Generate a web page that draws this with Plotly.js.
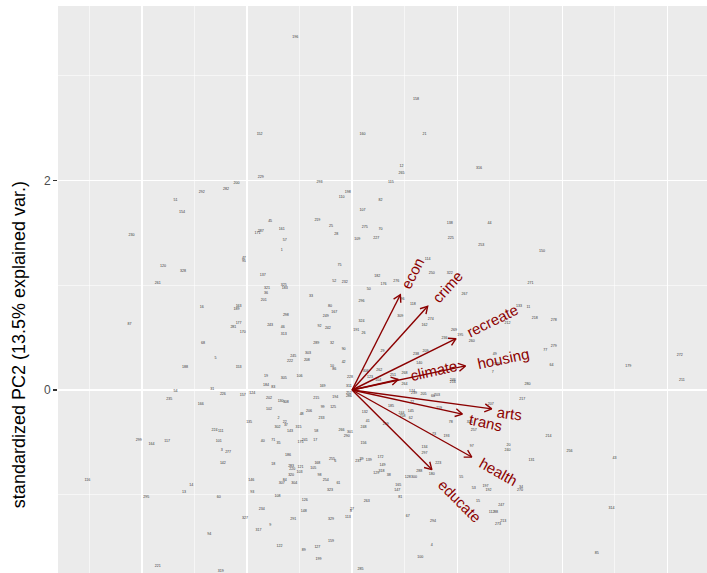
<!DOCTYPE html>
<html>
<head>
<meta charset="utf-8">
<script src="https://cdn.plot.ly/plotly-3.0.1.min.js"></script>
<style>html,body{margin:0;padding:0;background:#fff;}#chart{width:707px;height:573px;}</style>
</head>
<body>
<div id="chart"></div>
<script>
const obsLabels = ["152","229","200","282","196","158","160","21","12","265","316","293","115",
"292","51","154","45","287","171","230","47","95","137","120","328","261","321","36","201","16","163","189","87","177","281","243","170","68","5","188","153","19",
"198","110","82","107","219","25","275","70","28","109","227","161","57","1","138","44","225","253","114","250","322","75","182","52","232","276","176","325","183","50","267","33","118","96","296","80","167","249","298","309","274","162","324","46","92","242","191","26","313","269","236","195","260","289","32","90","245","303","222","208","29","238","209","140","10","86","42","228","262","106","305","268","251","306","123","104","246","264","311","169",
"252","286","215","194","174","239","205","66","203","207","217","130","308","99","125","185","72","48","206","132","145","119","41","233","244","258","62","2","22","37","302","315","259","248","78","326","143","58","266","301","290","257","73","193","35","175","241","17","156","97","134","297","186","255","6","237","39","139","172","223","168","283","121","149","105","220","103","288","180","318","129","38","98","55","128","300","320","84","254","307","304","61","165","323","147","53","81","108","126","263","148","27","8","291","329","113","67","159","122","89","127","4","199","100","285",
"49","136","7","216","280","20","240","131","197","192","34","270","15","247","112","88","213","273","294",
"214","256","43","314","85",
"150","271","133","11","218","212","278","279","77","64","179","272","211",
"54","31","226","157","124","184","83","235","166","202","102","135","224","111","299","164","117","101","40","71","3","277","142","18","116","14","13","146","93","295","60","234","327","9","317","94","221","319"];

const pc1 = [-0.88,-0.87,-1.10,-1.20,-0.54,0.61,0.10,0.69,0.47,0.47,1.21,-0.31,0.37,
-1.43,-1.68,-1.62,-0.78,-0.87,-0.90,-2.10,-1.03,-1.03,-0.85,-1.80,-1.61,-1.85,-0.81,-0.82,-0.84,-1.43,-1.08,-1.10,-2.12,-1.08,-1.13,-0.78,-1.04,-1.42,-1.30,-1.59,-1.08,-0.82,
-0.04,-0.10,0.27,0.10,-0.33,-0.20,0.12,0.27,-0.15,0.05,0.23,-0.67,-0.64,-0.67,0.93,1.31,0.94,1.23,0.72,0.76,0.93,-0.12,0.24,-0.17,-0.07,0.42,0.30,-0.65,-0.64,0.16,1.07,-0.39,0.58,0.48,0.09,-0.21,-0.17,-0.25,-0.63,0.46,0.75,0.69,0.09,-0.66,-0.31,-0.23,0.04,0.11,-0.65,0.97,0.88,1.03,1.14,-0.34,-0.19,-0.08,-0.56,-0.42,-0.59,-0.43,0.29,0.61,0.70,0.64,-0.19,-0.17,-0.08,-0.02,0.26,-0.50,-0.65,0.50,0.39,0.13,0.17,0.25,0.96,0.50,-0.03,-0.28,
-0.03,-0.03,-0.34,-0.16,0.57,0.59,0.68,0.77,0.81,1.32,1.62,-0.68,-0.63,-0.28,-0.18,0.37,0.57,-0.48,-0.41,0.12,0.56,0.83,0.15,-0.29,0.47,0.48,0.56,-0.70,-0.64,-0.63,-0.71,-0.51,0.32,0.11,0.94,1.12,-0.59,-0.34,-0.10,-0.02,-0.05,1.16,0.78,0.90,-0.70,-0.49,-0.45,-0.35,0.11,1.14,0.69,0.69,-0.61,-0.19,-0.16,0.06,0.09,0.16,0.27,0.82,-0.33,-0.58,-0.49,0.29,-0.37,-0.57,-0.50,0.64,0.76,0.28,0.23,0.35,-0.31,1.04,0.53,0.59,-0.58,-0.64,-0.25,-0.67,-0.55,-0.13,0.44,-0.21,0.43,1.16,0.46,-0.71,-0.45,0.14,-0.46,0.00,-0.01,-0.56,-0.20,-0.04,0.53,-0.20,-0.69,-0.46,-0.33,0.76,-0.32,0.65,0.08,
1.36,1.38,1.34,0.96,1.67,1.49,1.48,1.71,1.27,1.30,1.61,1.60,1.20,1.42,1.33,1.37,1.44,1.39,0.77,
1.87,2.07,2.50,2.47,2.33,
1.81,1.70,1.59,1.68,1.74,1.48,1.92,1.92,1.84,1.90,2.63,3.12,3.14,
-1.68,-1.33,-1.23,-1.04,-0.95,-0.82,-0.75,-1.74,-1.44,-0.79,-0.79,-0.98,-1.31,-1.25,-2.03,-1.91,-1.76,-1.27,-0.85,-0.75,-1.24,-1.18,-1.23,-0.75,-2.52,-1.53,-1.60,-0.96,-0.95,-1.96,-1.27,-0.86,-1.02,-0.78,-0.89,-1.36,-1.85,-1.25];

const pc2 = [2.44,2.03,1.98,1.92,3.37,2.78,2.44,2.44,2.14,2.07,2.12,1.99,1.99,
1.89,1.81,1.70,1.61,1.52,1.50,1.48,1.26,1.23,1.10,1.18,1.14,1.02,0.97,0.93,0.86,0.79,0.80,0.77,0.63,0.64,0.60,0.62,0.55,0.45,0.30,0.22,0.22,0.13,
1.89,1.84,1.81,1.72,1.62,1.57,1.56,1.54,1.49,1.44,1.45,1.54,1.43,1.34,1.59,1.59,1.45,1.38,1.25,1.12,1.12,1.19,1.09,1.04,1.03,1.04,1.01,1.00,0.97,0.96,0.92,0.90,0.82,0.87,0.85,0.80,0.74,0.71,0.72,0.71,0.68,0.62,0.66,0.60,0.61,0.59,0.57,0.54,0.53,0.57,0.50,0.52,0.47,0.45,0.45,0.39,0.32,0.35,0.28,0.29,0.37,0.34,0.37,0.26,0.23,0.20,0.27,0.12,0.19,0.13,0.11,0.16,0.14,0.18,0.12,0.09,0.09,0.06,0.04,0.04,
-0.03,-0.06,-0.08,-0.07,-0.01,-0.03,-0.04,-0.06,-0.05,-0.13,-0.09,-0.11,-0.12,-0.16,-0.16,-0.15,-0.12,-0.23,-0.20,-0.21,-0.20,-0.17,-0.30,-0.27,-0.22,-0.25,-0.27,-0.27,-0.31,-0.34,-0.35,-0.35,-0.33,-0.35,-0.31,-0.31,-0.39,-0.39,-0.38,-0.40,-0.44,-0.38,-0.42,-0.44,-0.51,-0.50,-0.48,-0.48,-0.51,-0.54,-0.55,-0.60,-0.62,-0.66,-0.68,-0.68,-0.66,-0.67,-0.64,-0.70,-0.70,-0.73,-0.74,-0.72,-0.75,-0.76,-0.78,-0.77,-0.80,-0.77,-0.79,-0.81,-0.81,-0.83,-0.83,-0.83,-0.81,-0.86,-0.86,-0.89,-0.89,-0.89,-0.91,-0.96,-0.96,-0.94,-1.02,-1.01,-1.05,-1.06,-1.16,-1.14,-1.16,-1.23,-1.23,-1.21,-1.20,-1.44,-1.49,-1.53,-1.50,-1.48,-1.62,-1.60,-1.71,
0.34,0.25,0.17,0.08,0.06,-0.53,-0.57,-0.67,-0.92,-0.96,-0.93,-0.96,-1.06,-1.10,-1.17,-1.17,-1.25,-1.28,-1.25,
-0.44,-0.58,-0.65,-1.13,-1.56,
1.33,1.02,0.80,0.79,0.69,0.64,0.67,0.42,0.38,0.24,0.23,0.33,0.09,
-0.01,0.01,-0.04,-0.05,-0.03,0.05,0.03,-0.09,-0.13,-0.08,-0.18,-0.31,-0.38,-0.39,-0.48,-0.52,-0.49,-0.49,-0.49,-0.48,-0.57,-0.59,-0.70,-0.71,-0.86,-0.91,-0.98,-0.86,-0.98,-1.02,-1.02,-1.14,-1.22,-1.29,-1.34,-1.38,-1.68,-1.73];

// Variable loadings (arrow tips) and label centres
const varNames = ["climate","housing","health","crime","trans","educate","arts","recreate","econ"];
const arrowX   = [0.44, 1.08, 1.14, 0.72, 1.05, 0.76, 1.33, 0.99, 0.46];
const arrowY   = [0.10, 0.23, -0.64, 0.80, -0.23, -0.76, -0.18, 0.49, 0.91];
const labelX   = [0.78, 1.44, 1.39, 0.91, 1.27, 1.02, 1.50, 1.34, 0.58];
const labelY   = [0.19, 0.30, -0.78, 0.99, -0.31, -1.06, -0.22, 0.66, 1.12];

// y-axis tick labels
const yTickVals = [0, 2];
const yTickText = ["0", "2"];
const yTitle = "standardized PC2 (13.5% explained var.)";

const DARKRED = "#8B0000";
const FONT = "Liberation Sans, Arial, sans-serif";

// build arrow segments + open chevron heads
const ax = [], ay = [];
const headLen = 0.077, headAng = 30 * Math.PI / 180;
for (let i = 0; i < varNames.length; i++) {
  const x = arrowX[i], y = arrowY[i];
  const th = Math.atan2(y, x);
  ax.push(0, x, null); ay.push(0, y, null);
  ax.push(x - headLen * Math.cos(th - headAng), x, x - headLen * Math.cos(th + headAng), null);
  ay.push(y - headLen * Math.sin(th - headAng), y, y - headLen * Math.sin(th + headAng), null);
}

const traces = [
  {
    type: "scatter", mode: "text",
    x: pc1, y: pc2, text: obsLabels,
    textfont: {size: 3.6, color: "#333333", family: FONT},
    textposition: "middle center",
    hoverinfo: "skip", showlegend: false
  },
  {
    type: "scatter", mode: "lines",
    x: ax, y: ay,
    line: {color: DARKRED, width: 1.4},
    hoverinfo: "skip", showlegend: false
  }
];

const annotations = varNames.map((n, i) => ({
  x: labelX[i], y: labelY[i], xref: "x", yref: "y",
  text: n, showarrow: false,
  textangle: -Math.atan2(arrowY[i], arrowX[i]) * 180 / Math.PI,
  xanchor: "center", yanchor: "middle",
  font: {size: 15, color: DARKRED, family: FONT}
}));
// y-axis title: centred on the (uncropped) panel, which continues below the picture
annotations.push({
  xref: "paper", yref: "paper", x: -0.060, y: 0.402,
  text: yTitle, showarrow: false, textangle: -90,
  xanchor: "center", yanchor: "middle",
  font: {size: 18, color: "#000000", family: FONT}
});

const layout = {
  width: 707, height: 573,
  margin: {l: 58, r: 0, t: 6, b: 0, pad: 0},
  paper_bgcolor: "#FFFFFF",
  plot_bgcolor: "#EBEBEB",
  font: {family: FONT},
  showlegend: false,
  xaxis: {
    range: [-2.80, 3.38],
    tickmode: "array", tickvals: [-2, -1, 0, 1, 2, 3],
    showticklabels: false, ticks: "",
    showgrid: true, gridcolor: "#FFFFFF", gridwidth: 1.1,
    zeroline: false, showline: false,
    minor: {tickvals: [-2.5, -1.5, -0.5, 0.5, 1.5, 2.5], showgrid: true, gridcolor: "#FFFFFF", gridwidth: 0.55, ticks: ""}
  },
  yaxis: {
    range: [-1.748, 3.668],
    tickmode: "array", tickvals: yTickVals, ticktext: yTickText,
    ticks: "outside", ticklen: 4, tickwidth: 1.1, tickcolor: "#333333",
    tickfont: {size: 12, color: "#4D4D4D", family: FONT},
    showgrid: true, gridcolor: "#FFFFFF", gridwidth: 1.1,
    zeroline: false, showline: false,
    minor: {tickvals: [-1, 1, 3], showgrid: true, gridcolor: "#FFFFFF", gridwidth: 0.55, ticks: ""}
  },
  annotations: annotations
};

Plotly.newPlot("chart", traces, layout, {displayModeBar: false, staticPlot: true});
</script>
</body>
</html>
